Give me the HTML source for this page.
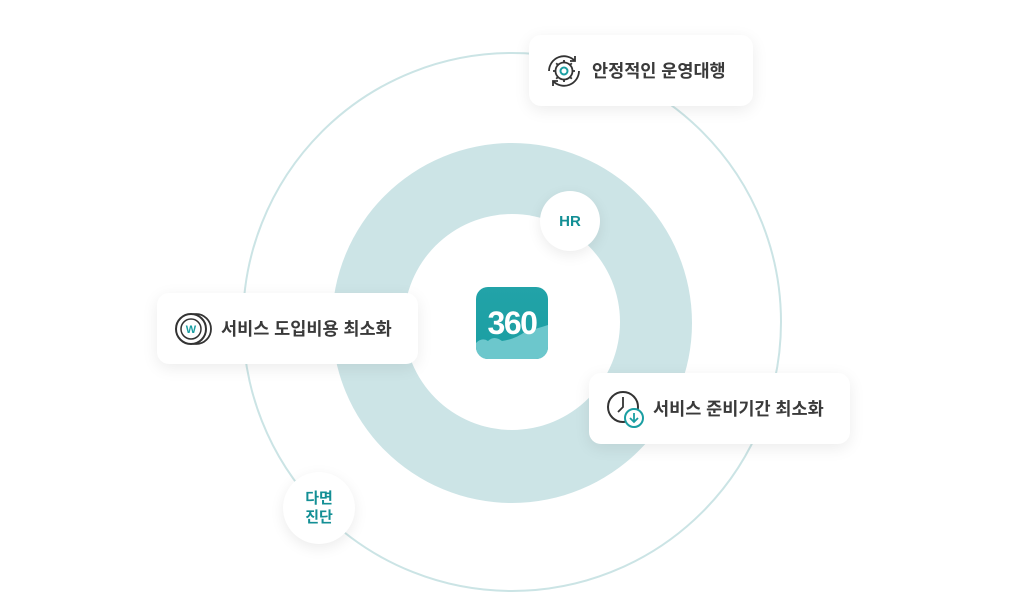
<!DOCTYPE html>
<html><head><meta charset="utf-8"><style>
html,body{margin:0;padding:0;width:1024px;height:615px;background:#fff;overflow:hidden;font-family:"Liberation Sans","Noto Sans CJK KR",sans-serif}
.abs{position:absolute}
.card{position:absolute;background:#fff;border-radius:12px;box-shadow:0 4px 16px rgba(0,0,0,0.08);display:flex;align-items:center;font-size:17.5px;font-weight:600;color:#3a3a3a;box-sizing:border-box}
.card svg{margin-right:9px}
.bub{position:absolute;background:#fff;border-radius:50%;box-shadow:0 4px 14px rgba(0,0,0,0.08);display:flex;align-items:center;justify-content:center;text-align:center;color:#138f95;font-weight:700;font-size:15px;line-height:19px}
</style></head><body>
<div class="abs" style="left:242px;top:52px;width:536px;height:536px;border:2px solid #cbe4e5;border-radius:50%"></div>
<div class="abs" style="left:332px;top:143px;width:360px;height:360px;background:#cce4e6;border-radius:50%"></div>
<div class="abs" style="left:404px;top:214px;width:216px;height:216px;background:#fff;border-radius:50%"></div>
<div class="abs" style="left:476px;top:287px;width:72px;height:72px;border-radius:12px;overflow:hidden;background:linear-gradient(#22a3a8,#1a9ea2)">
<svg width="72" height="72" class="abs" style="left:0;top:0"><path d="M0 56 Q6 50 12 54 Q18 48 26 54 Q40 52 50 44 Q60 42 72 38 L72 72 L0 72Z" fill="#6cc7cc"/></svg>
<div class="abs" style="left:0;top:18px;width:72px;text-align:center;color:#fff;font-weight:700;font-size:32px;letter-spacing:-1.5px">360</div>
</div>
<div class="bub" style="left:540px;top:191px;width:60px;height:60px">HR</div>
<div class="bub" style="left:283px;top:472px;width:72px;height:72px">다면<br>진단</div>
<div class="card" style="left:529px;top:35px;width:224px;height:71px;padding-left:16px">
<svg width="38" height="38" viewBox="0 0 38 38"><g fill="none" stroke="#333" stroke-width="1.8"><circle cx="19" cy="19" r="8.5"/><path d="M19 8v3M19 27v3M8 19h3M27 19h3M11.2 11.2l2.1 2.1M24.7 24.7l2.1 2.1M11.2 26.8l2.1-2.1M24.7 13.3l2.1-2.1"/><path d="M4 19 A15 15 0 0 1 30 9 M34 19 A15 15 0 0 1 8 29"/><path d="M30 4v5h-5M8 34v-5h5"/></g><circle cx="19" cy="19" r="3.5" fill="none" stroke="#1a9ea2" stroke-width="2"/></svg>안정적인 운영대행</div>
<div class="card" style="left:157px;top:293px;width:261px;height:71px;padding-left:17px">
<svg width="38" height="36" viewBox="0 0 38 36"><circle cx="22" cy="18" r="15" fill="none" stroke="#333" stroke-width="1.8"/><circle cx="17" cy="18" r="15" fill="#fff" stroke="#333" stroke-width="2"/><circle cx="17" cy="18" r="10" fill="none" stroke="#333" stroke-width="1.5"/><text x="17" y="22" font-size="11" font-weight="700" fill="#1a9ea2" text-anchor="middle" font-family="Liberation Sans">W</text></svg>서비스 도입비용 최소화</div>
<div class="card" style="left:589px;top:373px;width:261px;height:71px;padding-left:17px">
<svg width="38" height="38" viewBox="0 0 38 38"><circle cx="17" cy="17" r="15" fill="none" stroke="#333" stroke-width="2"/><path d="M17 7 V17 L12 22" fill="none" stroke="#333" stroke-width="1.8"/><circle cx="28" cy="28" r="9" fill="#fff" stroke="#1a9ea2" stroke-width="2"/><path d="M28 23 V32 M24 28 L28 32 L32 28" fill="none" stroke="#1a9ea2" stroke-width="1.8"/></svg>서비스 준비기간 최소화</div>
</body></html>
